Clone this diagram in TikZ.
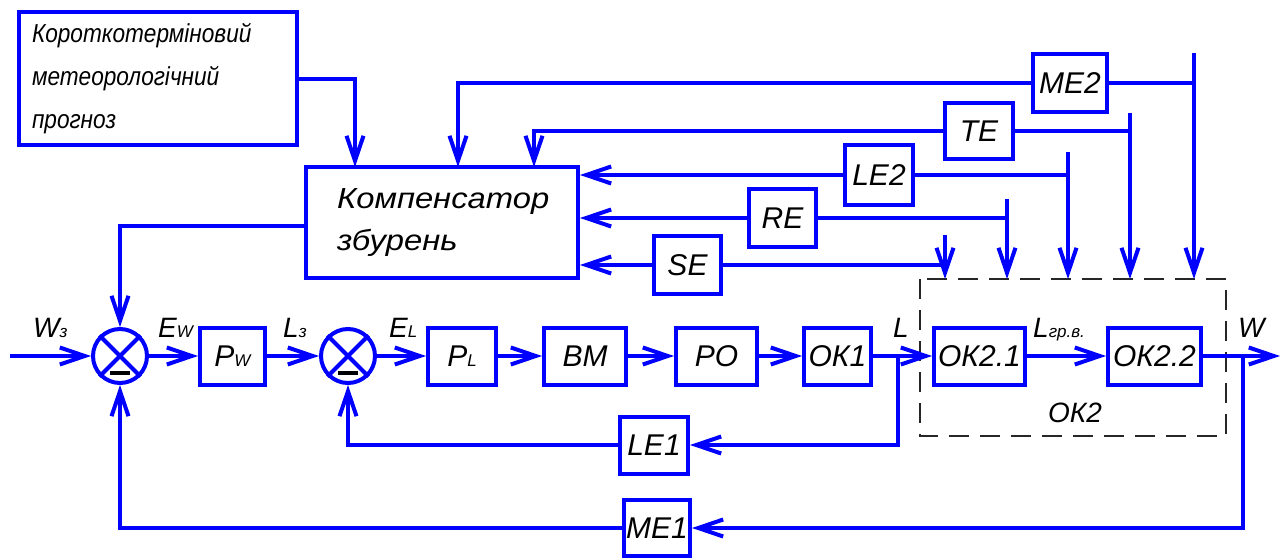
\documentclass[tikz,border=0pt]{standalone}
\usepackage{fontspec}
\setmainfont{Liberation Sans}
\newfontfamily\gnarrow{Liberation Sans}[FakeStretch=0.87]
\newfontfamily\gwide{Liberation Sans}[FakeStretch=1.13]
\usetikzlibrary{arrows.meta}
\definecolor{lb}{RGB}{0,0,255}
\newcommand\glab{\fontsize{28}{28}\selectfont\itshape}
\newcommand\gbox{\fontsize{30}{30}\selectfont\itshape}
\newcommand\gsub[1]{{\fontsize{17}{17}\selectfont #1}}
\tikzset{
  ln/.style={draw=lb, line width=4pt},
  arr/.style={draw=lb, line width=4pt, -{Straight Barb[length=25pt,width=17pt]}},
  blk/.style={draw=lb, line width=4pt, rectangle, inner sep=0pt, font=\gbox, text=black},
  sumj/.style={draw=lb, line width=4pt, circle, minimum size=54pt, inner sep=0pt},
  lab/.style={inner sep=0pt, font=\glab, text=black},
  minusbar/.style={draw=black, line width=4pt},
  dbox/.style={draw=black!85, line width=1.3pt, dash pattern=on 20pt off 11pt},
}
\begin{document}
\begin{tikzpicture}[x=1pt,y=-1pt]
\useasboundingbox (0,0) rectangle (1288,559);

% top-left forecast box
\node[blk, minimum width=278pt, minimum height=133pt, align=left, text width=252pt,
  font=\gnarrow\fontsize{26}{43}\selectfont\itshape] (prog) at (158,79)
  {Короткотерміновий\\метеорологічний\\прогноз};

% compensator
\node[blk, minimum width=272pt, minimum height=111pt, align=left, text width=210pt,
  font=\gwide\fontsize{29}{42}\selectfont\itshape] (komp) at (442,222.5)
  {Компенсатор\\збурень};

% summing junctions
\node[sumj] (s1) at (120,356) {};
\node[sumj] (s2) at (348,356) {};
\foreach \s in {s1,s2}{
  \draw[ln] (\s.45) -- (\s.225);
  \draw[ln] (\s.135) -- (\s.315);
  \draw[minusbar] ([xshift=-10pt,yshift=-17pt]\s.center) -- ([xshift=10pt,yshift=-17pt]\s.center);
}

% main chain
\node[blk, minimum width=65pt, minimum height=57pt] (pw) at (232.5,356) {Р\gsub{W}};
\node[blk, minimum width=68pt, minimum height=57pt] (pl) at (462,356) {Р\gsub{L}};
\node[blk, minimum width=82pt, minimum height=57pt] (bm) at (585,356) {ВМ};
\node[blk, minimum width=81pt, minimum height=57pt] (po) at (716.5,356) {РО};
\node[blk, minimum width=67pt, minimum height=57pt] (ok1) at (837.5,356) {ОК1};
\node[blk, minimum width=91pt, minimum height=57pt] (ok21) at (979.5,356) {ОК2.1};
\node[blk, minimum width=93pt, minimum height=57pt] (ok22) at (1154.5,356) {ОК2.2};

% feedback boxes
\node[blk, minimum width=68pt, minimum height=57pt] (le1) at (654,445) {LE1};
\node[blk, minimum width=66pt, minimum height=56pt] (me1) at (657,528) {ME1};

% disturbance boxes
\node[blk, minimum width=74pt, minimum height=58pt] (me2) at (1070,83) {ME2};
\node[blk, minimum width=68pt, minimum height=56pt] (te) at (979,131) {TE};
\node[blk, minimum width=68pt, minimum height=59pt] (le2) at (879,175) {LE2};
\node[blk, minimum width=67pt, minimum height=58pt] (re) at (782.5,218) {RE};
\node[blk, minimum width=67pt, minimum height=58pt] (se) at (687.5,265) {SE};

% dashed OK2 frame
\draw[dbox] (920,279) rectangle (1226,436);
\node[lab] (ok2lab) at (1075,413) {ОК2};

% signal labels
\node[lab, anchor=base west] (lw3) at (33,337) {W\gsub{з}};
\node[lab, anchor=base west] (lew) at (158,337) {E\gsub{W}};
\node[lab, anchor=base west] (ll3) at (283,337) {L\gsub{з}};
\node[lab, anchor=base west] (lel) at (389,337) {E\gsub{L}};
\node[lab, anchor=base west] (ll) at (893,337) {L};
\node[lab, anchor=base west] (lgr) at (1033,337) {L\gsub{гр.в.}};
\node[lab, anchor=base west] (lwo) at (1238,337) {W};

% coordinates
\coordinate (win) at (10,356);
\coordinate (wout) at (1280,356);
\coordinate (tapL) at (898,356);
\coordinate (tapW) at (1243,356);
\coordinate (kl) at (306,226);
\coordinate (k1) at (355,167);
\coordinate (k2) at (458,167);
\coordinate (k3) at (534,167);
\coordinate (vme2t) at (1194,53);
\coordinate (vme2b) at (1194,279);
\coordinate (vtet) at (1130,113);
\coordinate (vteb) at (1130,279);
\coordinate (vle2t) at (1068,152);
\coordinate (vle2b) at (1068,279);
\coordinate (vret) at (1007,199);
\coordinate (vreb) at (1007,279);
\coordinate (vset) at (945,235);
\coordinate (vseb) at (945,279);

% main chain connectors
\draw[arr] (win) -- (s1.west);
\draw[arr] (s1.east) -- (pw.west);
\draw[arr] (pw.east) -- (s2.west);
\draw[arr] (s2.east) -- (pl.west);
\draw[arr] (pl.east) -- (bm.west);
\draw[arr] (bm.east) -- (po.west);
\draw[arr] (po.east) -- (ok1.west);
\draw[arr] (ok1.east) -- (ok21.west);
\draw[arr] (ok21.east) -- (ok22.west);
\draw[arr] (ok22.east) -- (wout);

% feedback loops
\draw[arr] (tapL) |- (le1.east);
\draw[arr] (le1.west) -| (s2.south);
\draw[arr] (tapW) |- (me1.east);
\draw[arr] (me1.west) -| (s1.south);

% compensator connections
\draw[arr] (kl) -| (s1.north);
\draw[arr] (prog.east) -| (k1);
\draw[arr] (me2.west) -| (k2);
\draw[arr] (te.west) -| (k3);
\draw[arr] (le2.west) -- (komp.east |- le2.west);
\draw[arr] (re.west) -- (komp.east |- re.west);
\draw[arr] (se.west) -- (komp.east |- se.west);

% disturbance taps
\draw[ln] (me2.east) -- (me2.east -| vme2t);
\draw[arr] (vme2t) -- (vme2b);
\draw[ln] (te.east) -- (te.east -| vtet);
\draw[arr] (vtet) -- (vteb);
\draw[ln] (le2.east) -- (le2.east -| vle2t);
\draw[arr] (vle2t) -- (vle2b);
\draw[ln] (re.east) -- (re.east -| vret);
\draw[arr] (vret) -- (vreb);
\draw[ln] (se.east) -- (se.east -| vset);
\draw[arr] (vset) -- (vseb);
\end{tikzpicture}
\end{document}
